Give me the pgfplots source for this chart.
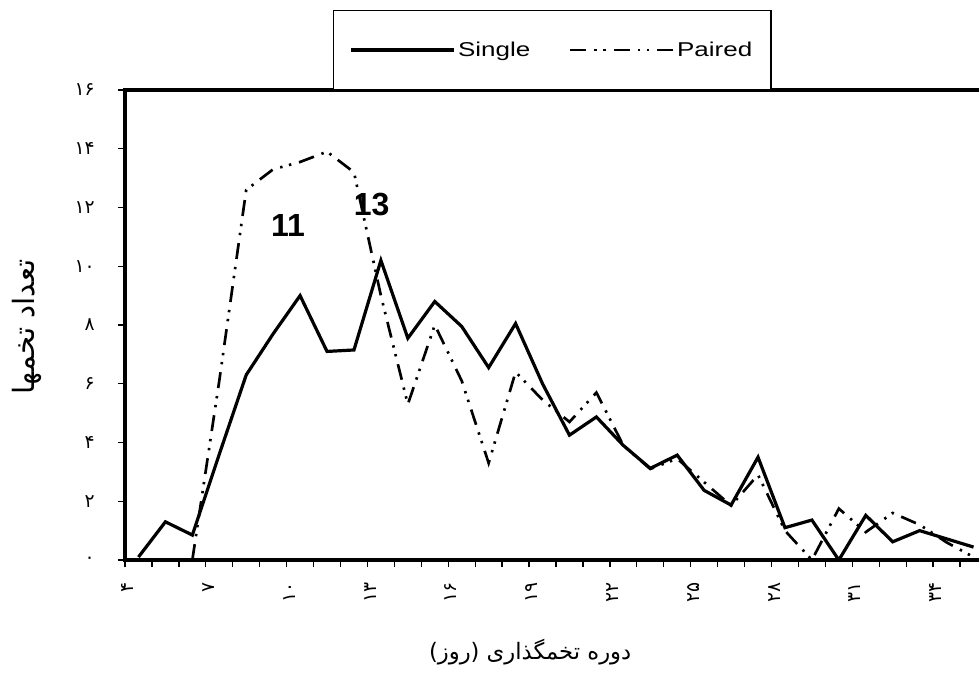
\documentclass[border=0pt]{standalone}
\usepackage{fontspec}
\setmainfont{Liberation Sans}
\newfontfamily\arabicfont[Script=Arabic]{DejaVu Sans}
\newfontfamily\legfont[FakeStretch=1.3]{Liberation Sans}
\usepackage{pgfplots}
\pgfplotsset{compat=1.18}
\TeXXeTstate=1

\pgfplotstableread{
day val
4 0.1
5 1.3
6 0.85
7 3.6
8 6.3
9 7.7
10 9.0
11 7.1
12 7.15
13 10.2
14 7.55
15 8.8
16 7.95
17 6.55
18 8.05
19 6.0
20 4.25
21 4.87
22 3.9
23 3.12
24 3.57
25 2.37
26 1.87
27 3.5
28 1.1
29 1.36
30 0
31 1.52
32 0.62
33 1.0
34 0.72
35 0.44
}\single

\pgfplotstableread{
day val
6 0
7 6.1
8 12.6
9 13.3
10 13.55
11 13.9
12 13.2
13 9.0
14 5.3
15 8.0
16 6.1
17 3.3
18 6.4
19 5.45
20 4.7
21 5.7
22 3.9
23 3.1
24 3.45
25 2.65
26 1.85
27 2.9
28 1.0
29 0
30 1.75
31 0.95
32 1.6
33 1.2
34 0.6
35 0.1
}\paired

\begin{document}
\begin{tikzpicture}
\begin{axis}[
  at={(0pt,0pt)}, anchor=south west,
  scale only axis, width=646.5pt, height=352.5pt,
  xmin=3.5, xmax=35.5, ymin=0, ymax=16,
  axis line style={line width=2.4pt},
  tick align=outside, tick pos=left,
  xtick={3.6,6.6,9.6,12.6,15.6,18.6,21.6,24.6,27.6,30.6,33.6},
  xticklabels={۴,۷,۱۰,۱۳,۱۶,۱۹,۲۲,۲۵,۲۸,۳۱,۳۴},
  minor xtick={3.5,4.5,...,35.5},
  major x tick style={draw=none},
  ytick={0,2,...,16},
  yticklabels={۰,۲,۴,۶,۸,۱۰,۱۲,۱۴,۱۶},
  major tick length=5.25pt, minor tick length=5.25pt,
  tick style={black, line width=1pt},
  tick label style={font=\arabicfont\fontsize{14}{16}\selectfont},
  xticklabel style={yshift=-8pt, rotate=90, anchor=east},
  yticklabel style={xshift=-14pt},
  xlabel={\arabicfont\fontsize{17}{20}\selectfont\beginR دوره تخمگذاری (روز)\endR},
  xlabel style={at={(axis description cs:0.47,-0.1957)}, anchor=center},
  ylabel={\arabicfont\fontsize{22}{24}\selectfont\beginR تعداد تخمها\endR},
  ylabel style={at={(axis description cs:-0.1137,0.496)}, anchor=center},
  legend columns=2,
  legend style={at={(axis description cs:0.2413,1)}, anchor=south west,
    draw=black, line width=0.9pt, inner xsep=12pt, inner ysep=21.4pt,
    font=\legfont\fontsize{15}{18}\selectfont,
    /tikz/every even column/.append style={column sep=27pt}},
  legend image code/.code={\draw[#1] (0pt,0pt) -- (77pt,0pt);},
]
\addplot[black, line width=2.4pt] table[x=day, y=val] {\single};
\addlegendentry{Single}
\addplot[black, line width=2pt, dash pattern=on 12pt off 6pt on 1.8pt off 5pt on 1.8pt off 6pt] table[x=day, y=val] {\paired};
\addlegendentry{Paired}
\node[font=\bfseries\fontsize{24}{24}\selectfont] at (axis cs:9.55,11.4) {11};
\node[font=\bfseries\fontsize{24}{24}\selectfont] at (axis cs:12.66,12.09) {13};
\end{axis}
\pgfresetboundingbox
\path (-93.75pt,-84pt) rectangle (640.5pt,420pt);
\end{tikzpicture}
\end{document}
